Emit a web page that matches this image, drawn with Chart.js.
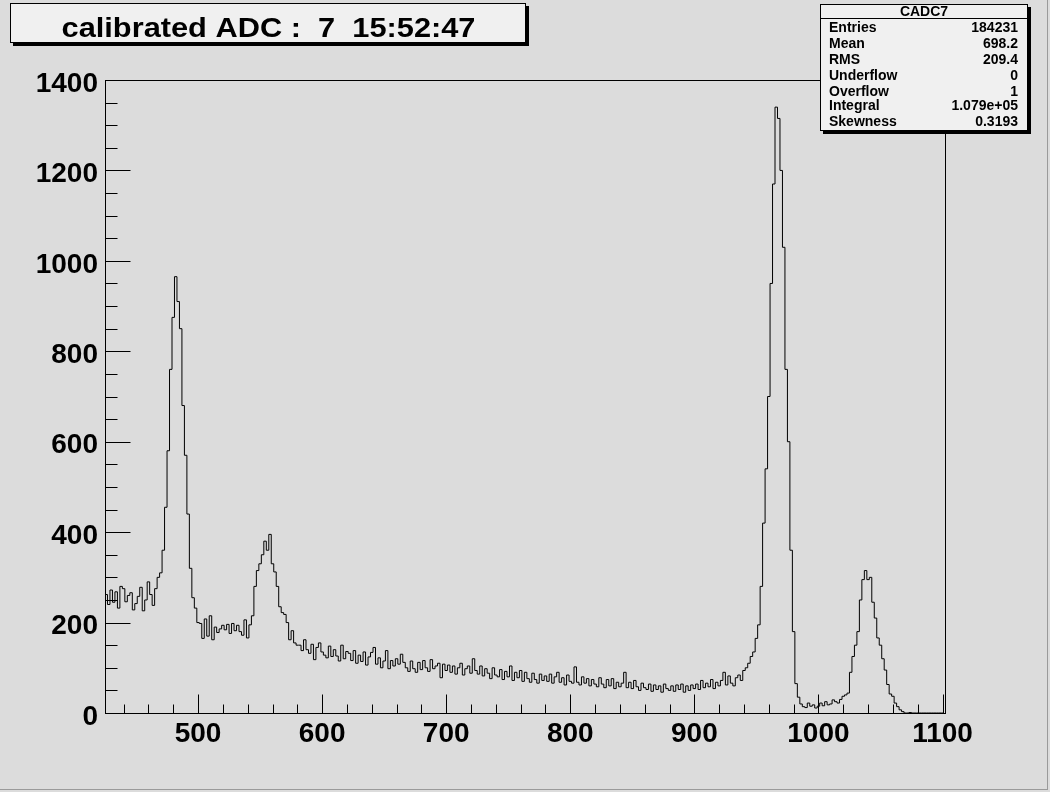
<!DOCTYPE html>
<html>
<head>
<meta charset="utf-8">
<title>calibrated ADC</title>
<script src="https://cdn.jsdelivr.net/npm/chart.js@4.4.1/dist/chart.umd.min.js"></script>
<style>
  html, body { margin: 0; padding: 0; background: #dcdcdc; }
  #wrap { width: 1050px; height: 792px; position: relative; }
</style>
</head>
<body>
<div id="wrap"><canvas id="adcChart" width="1050" height="792"></canvas></div>
<script>
// Histogram binning (calibrated ADC channel 7)
const binStart = 425;
const binWidth = 2;
const xMin = 425, xMax = 1102;
const yMin = 0, yMax = 1400;

// Counts per bin, split by region
const countsLeftShelf = [262, 240, 272, 245, 268, 232, 280, 275, 246, 260, 266, 228, 242, 258, 278, 226, 250, 290, 262, 238]; // 425-463
const countsPeak1 = [275, 300, 310, 360, 455, 580, 760, 875, 965, 910, 850, 680, 570, 440, 320, 255, 232, 200]; // 465-499
const countsValley1 = [198, 165, 208, 170, 215, 162, 190, 178, 186, 194, 184, 196, 176, 198, 182, 194, 180, 172, 206, 166]; // 501-539
const countsPeak2 = [195, 215, 280, 315, 330, 350, 380, 360, 395, 330, 312, 280, 235, 222, 218, 200, 162, 182, 155, 150]; // 541-579
const countsContinuum = [ // 581-947
    150, 138, 162, 140, 132, 152, 118, 145, 155, 135,
    128, 122, 148, 125, 140, 126, 115, 150, 120, 136,
    132, 116, 138, 110, 128, 114, 135, 106, 124, 134,
    145, 108, 122, 100, 115, 138, 98, 116, 104, 120,
    108, 130, 112, 100, 92, 115, 98, 90, 112, 96,
    116, 100, 92, 118, 98, 104, 110, 78, 108, 94,
    106, 90, 104, 86, 100, 110, 84, 98, 104, 88,
    120, 94, 86, 104, 82, 98, 88, 76, 100, 84,
    80, 96, 74, 92, 80, 104, 72, 90, 78, 94,
    70, 90, 76, 68, 88, 74, 66, 86, 72, 82,
    70, 86, 66, 80, 90, 68, 78, 62, 84, 70,
    66, 102, 68, 62, 80, 66, 76, 60, 74, 64,
    58, 78, 64, 56, 74, 60, 76, 54, 68, 58,
    66, 90, 56, 68, 54, 72, 58, 50, 66, 56,
    52, 64, 48, 62, 52, 60, 46, 64, 54, 50,
    60, 48, 62, 52, 64, 46, 60, 50, 62, 54,
    64, 52, 72, 56, 66, 58, 74, 54, 68, 60,
    72, 90, 62, 82, 66, 60, 78, 84, 72, 94,
    100, 110, 125, 135
];
const countsPeak3 = [165, 195, 280, 420, 540, 700, 950, 1170, 1340, 1315, 1200, 1030, 760, 600, 360, 180, 65, 35, 20, 14]; // 949-987
const countsValley2 = [12, 22, 15, 18, 11, 15, 22, 16, 25, 18, 20, 29, 25, 22, 30, 37]; // 989-1019
const countsPeak4 = [40, 44, 90, 125, 150, 180, 250, 295, 315, 295, 300, 245, 210, 166, 150, 120, 95, 63, 42, 37, 22, 14, 7, 3]; // 1021-1067
const countsTail = [0, 0, 1, 0, 0, 0, 0, 0, 0, 0, 0, 0, 0, 0, 0, 0]; // 1069-1099

// Axis labels
const xTickValues = [500, 600, 700, 800, 900, 1000, 1100];
const yTickValues = [0, 200, 400, 600, 800, 1000, 1200, 1400];

// Title and statistics box text
const titleText = 'calibrated ADC :  7  15:52:47';
const statsName = 'CADC7';
const statsLabels = ['Entries', 'Mean', 'RMS', 'Underflow', 'Overflow', 'Integral', 'Skewness'];
const statsValues = ['184231', '698.2', '209.4', '0', '1', '1.079e+05', '0.3193'];

const fontFamily = "'Liberation Sans', Arial, Helvetica, sans-serif";

// Build step points: each point sits on the low edge of its bin
const counts = [].concat(countsLeftShelf, countsPeak1, countsValley1, countsPeak2,
    countsContinuum, countsPeak3, countsValley2, countsPeak4, countsTail);
const histPoints = counts.map((c, i) => ({ x: binStart + i * binWidth, y: c }));
histPoints.push({ x: binStart + counts.length * binWidth, y: counts[counts.length - 1] }); // close last bin

// Draws ROOT-style frame, inward ticks, title box and stats box
const rootDecor = {
    id: 'rootDecor',
    afterDraw(chart) {
        const c = chart.ctx;
        const area = chart.chartArea;
        const xs = chart.scales.x;
        const ys = chart.scales.y;
        const left = Math.round(area.left) + 0.5;
        const right = Math.round(area.right) + 0.5;
        const top = Math.round(area.top) + 0.5;
        const bottom = Math.round(area.bottom) + 0.5;

        c.save();
        c.strokeStyle = '#000';
        c.lineWidth = 1;

        // frame
        c.strokeRect(left, top, right - left, bottom - top);

        // x ticks: minor every 20, major every 100
        c.beginPath();
        for (let v = 440; v <= xMax; v += 20) {
            const px = Math.round(xs.getPixelForValue(v)) + 0.5;
            const len = v % 100 === 0 ? 19 : 9;
            c.moveTo(px, bottom);
            c.lineTo(px, bottom - len);
        }
        // y ticks: minor every 50, major every 200
        for (let v = 50; v <= yMax; v += 50) {
            const py = Math.round(ys.getPixelForValue(v)) + 0.5;
            const len = v % 200 === 0 ? 25 : 12;
            c.moveTo(left, py);
            c.lineTo(left + len, py);
        }
        c.stroke();

        // title box with shadow
        c.fillStyle = '#000';
        c.fillRect(13, 6, 516, 40);
        c.fillStyle = '#f0f0f0';
        c.fillRect(10, 3, 516, 40);
        c.strokeRect(10.5, 3.5, 515, 39);
        c.fillStyle = '#000';
        c.font = 'bold 27px ' + fontFamily;
        c.textAlign = 'center';
        c.textBaseline = 'alphabetic';
        c.save();
        c.translate(268.5, 37);
        c.scale(1.14, 1); // ROOT's Helvetica runs wider than Liberation Sans
        c.fillText(titleText, 0, 0);
        c.restore();

        // stats box with shadow
        c.fillStyle = '#000';
        c.fillRect(823, 7, 208, 127);
        c.fillStyle = '#f0f0f0';
        c.fillRect(820, 4, 208, 127);
        c.strokeRect(820.5, 4.5, 207, 126);
        c.beginPath();
        c.moveTo(820, 18.5);
        c.lineTo(1028, 18.5);
        c.stroke();

        c.fillStyle = '#000';
        c.font = 'bold 14px ' + fontFamily;
        c.textBaseline = 'middle';
        c.textAlign = 'center';
        c.fillText(statsName, 924, 12);
        const rowY = [28, 44, 60, 76, 92, 106, 122];
        statsLabels.forEach((lab, i) => {
            c.textAlign = 'left';
            c.fillText(lab, 829, rowY[i]);
            c.textAlign = 'right';
            c.fillText(statsValues[i], 1018, rowY[i]);
        });

        // canvas bevel on the right and bottom
        c.strokeStyle = '#9a9a9a';
        c.beginPath();
        c.moveTo(1047.5, 0);
        c.lineTo(1047.5, 790);
        c.moveTo(0, 789.5);
        c.lineTo(1048, 789.5);
        c.stroke();
        c.restore();
    }
};

const chart = new Chart(document.getElementById('adcChart'), {
    type: 'line',
    data: {
        datasets: [{
            label: statsName,
            data: histPoints,
            borderColor: '#000',
            borderWidth: 1,
            pointRadius: 0,
            fill: false,
            stepped: 'before',
            tension: 0
        }]
    },
    options: {
        responsive: false,
        devicePixelRatio: 1,
        animation: false,
        events: [],
        layout: { padding: { left: 0, top: 80, right: 105, bottom: 0 } },
        plugins: {
            legend: { display: false },
            title: { display: false },
            tooltip: { enabled: false }
        },
        scales: {
            x: {
                type: 'linear',
                min: xMin,
                max: xMax,
                afterBuildTicks: (s) => { s.ticks = xTickValues.map(v => ({ value: v })); },
                afterFit: (s) => { s.height = 79; },
                grid: { display: false, drawTicks: false },
                border: { display: false },
                ticks: {
                    autoSkip: false,
                    maxRotation: 0,
                    padding: 4,
                    color: '#000',
                    callback: (v) => String(v),
                    font: { family: fontFamily, size: 28, weight: 'bold' }
                }
            },
            y: {
                type: 'linear',
                min: yMin,
                max: yMax,
                afterBuildTicks: (s) => { s.ticks = yTickValues.map(v => ({ value: v })); },
                afterFit: (s) => { s.width = 105; },
                grid: { display: false, drawTicks: false },
                border: { display: false },
                ticks: {
                    padding: 7,
                    labelOffset: 4,
                    color: '#000',
                    callback: (v) => String(v),
                    font: { family: fontFamily, size: 28, weight: 'bold' }
                }
            }
        }
    },
    plugins: [rootDecor]
});
</script>
</body>
</html>
